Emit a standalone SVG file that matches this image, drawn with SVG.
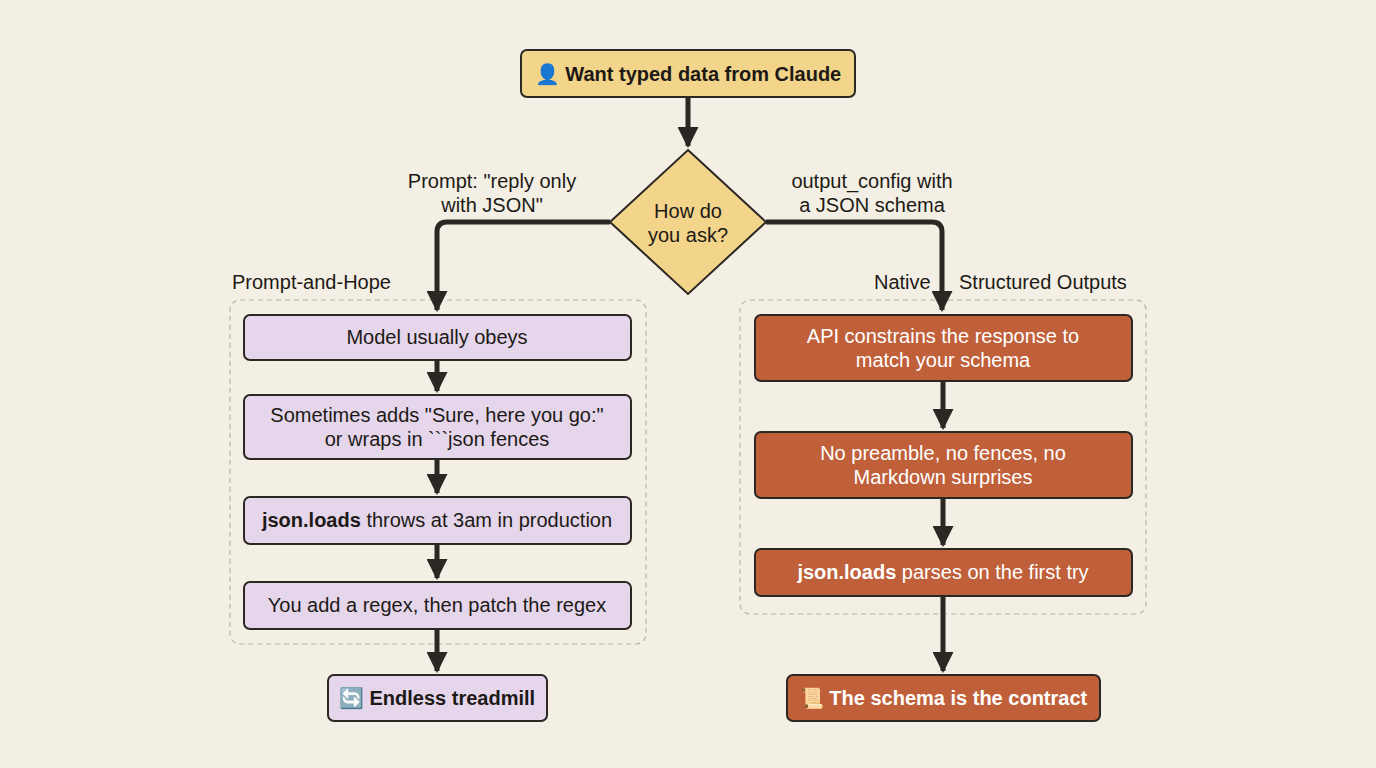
<svg xmlns="http://www.w3.org/2000/svg" width="1376" height="768" viewBox="0 0 1376 768">
<defs>
<marker id="ah" viewBox="0 0 10 10" refX="9" refY="5" markerWidth="4.2" markerHeight="4.2" orient="auto"><path d="M0,0 L10,5 L0,10 z" fill="#2b2722"/></marker>
<style>
text{font-family:"Liberation Sans",Arial,sans-serif;font-size:20px;fill:#1d1a16;text-anchor:middle}
.y{fill:#f2d48a;stroke:#2b2722;stroke-width:2}
.l{fill:#e5d6ec;stroke:#2b2722;stroke-width:2}
.o{fill:#c0603b;stroke:#2b2722;stroke-width:2}
.w{fill:#fff}
.b{font-weight:bold}
.c path{fill:none;stroke:#2b2722;stroke-width:5;marker-end:url(#ah)}
.g{fill:none;stroke:#b9b2a5;stroke-width:1.2;stroke-dasharray:5 4}
</style>
</defs>
<rect width="1376" height="768" fill="#f3efe4"/>
<rect class="g" x="230" y="300" width="416" height="344" rx="10"/>
<rect class="g" x="740" y="300" width="406" height="314" rx="10"/>
<text x="232" y="289" style="text-anchor:start">Prompt-and-Hope</text>
<text x="874" y="289" style="text-anchor:start">Native</text>
<text x="959" y="289" style="text-anchor:start">Structured Outputs</text>
<text x="492" y="188">Prompt: "reply only</text>
<text x="492" y="212">with JSON"</text>
<text x="872" y="188">output_config with</text>
<text x="872" y="212">a JSON schema</text>
<g class="c">
<path d="M688,97 V146"/>
<path d="M610,222 H447 Q437,222 437,232 V310"/>
<path d="M766,222 H932 Q942,222 942,232 V310"/>
<path d="M437,360 V391"/>
<path d="M437,459 V493"/>
<path d="M437,544 V578"/>
<path d="M437,629 V671"/>
<path d="M943,381 V428"/>
<path d="M943,498 V545"/>
<path d="M943,596 V671"/>
</g>
<g id="start"><rect class="y" x="521" y="50" width="334" height="47" rx="6"/><text x="688" y="81" class="b">👤 Want typed data from Claude</text></g>
<g id="ask"><path class="y" d="M688,150 L766,222 L688,294 L610,222 Z"/><text x="688" y="218">How do</text><text x="688" y="242">you ask?</text></g>
<g id="l1"><rect class="l" x="244" y="315" width="387" height="45" rx="6"/><text x="437" y="344">Model usually obeys</text></g>
<g id="l2"><rect class="l" x="244" y="395" width="387" height="64" rx="6"/><text x="437" y="422">Sometimes adds "Sure, here you go:"</text><text x="437" y="446">or wraps in ```json fences</text></g>
<g id="l3"><rect class="l" x="244" y="497" width="387" height="47" rx="6"/><text x="437" y="527"><tspan class="b">json.loads</tspan> throws at 3am in production</text></g>
<g id="l4"><rect class="l" x="244" y="582" width="387" height="47" rx="6"/><text x="437" y="612">You add a regex, then patch the regex</text></g>
<g id="l5"><rect class="l" x="328" y="675" width="219" height="46" rx="6"/><text x="437" y="705" class="b">🔄 Endless treadmill</text></g>
<g id="r1"><rect class="o" x="755" y="315" width="377" height="66" rx="6"/><text x="943" y="343" class="w">API constrains the response to</text><text x="943" y="367" class="w">match your schema</text></g>
<g id="r2"><rect class="o" x="755" y="432" width="377" height="66" rx="6"/><text x="943" y="460" class="w">No preamble, no fences, no</text><text x="943" y="484" class="w">Markdown surprises</text></g>
<g id="r3"><rect class="o" x="755" y="549" width="377" height="47" rx="6"/><text x="943" y="579" class="w"><tspan class="b">json.loads</tspan> parses on the first try</text></g>
<g id="r4"><rect class="o" x="787" y="675" width="313" height="46" rx="6"/><text x="943" y="705" class="w b">📜 The schema is the contract</text></g>
</svg>
